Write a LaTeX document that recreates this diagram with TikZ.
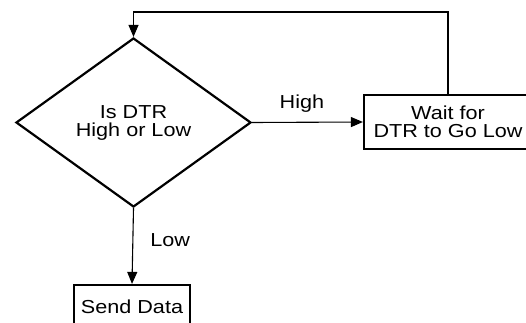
\documentclass[tikz,border=0pt]{standalone}
\usepackage{fontspec}
\setmainfont{Liberation Sans}
\newfontfamily\chartfont[FakeStretch=1.15]{Liberation Sans}
\usetikzlibrary{shapes.geometric,arrows.meta}

\begin{document}
\begin{tikzpicture}[x=1pt,y=1pt,
  chart/.style={font=\chartfont\fontsize{18.8}{18}\selectfont},
  decision/.style={chart, diamond, draw, line width=2.2pt, minimum width=235pt,
    minimum height=169pt, inner sep=0pt, align=center},
  process/.style={chart, rectangle, draw, line width=2.2pt, inner sep=0pt, align=center},
  flow/.style={-{Triangle[length=12pt,width=10pt]}, line width=1.1pt},
  tag/.style={chart, inner sep=0pt}]

% frame
\useasboundingbox (0,0) rectangle (526,-323);
\clip (0,0) rectangle (526,-323);

% boxes
\node[decision] (test) at (133.5,-122.5) {Is DTR\\High or Low};
\node[process, minimum width=168pt, minimum height=54pt] (wait) at (448,-122) {Wait for\\DTR to Go Low};
\node[process, minimum width=116pt, minimum height=44pt] (send) at (132,-307) {Send Data};

% connectors
\draw[flow] (test.east) -- node[tag, pos=0.45, above=9pt] (high) {High} (wait.west);
\draw[flow] (test.south) -- node[tag, pos=0.42, right=17pt] (low) {Low} (send.north);

% loop back
\coordinate (looptop) at ([yshift=-12pt]wait.north |- 0,0);
\draw[flow] (wait.north) -- (looptop) -| (test.north);

\end{tikzpicture}
\end{document}
